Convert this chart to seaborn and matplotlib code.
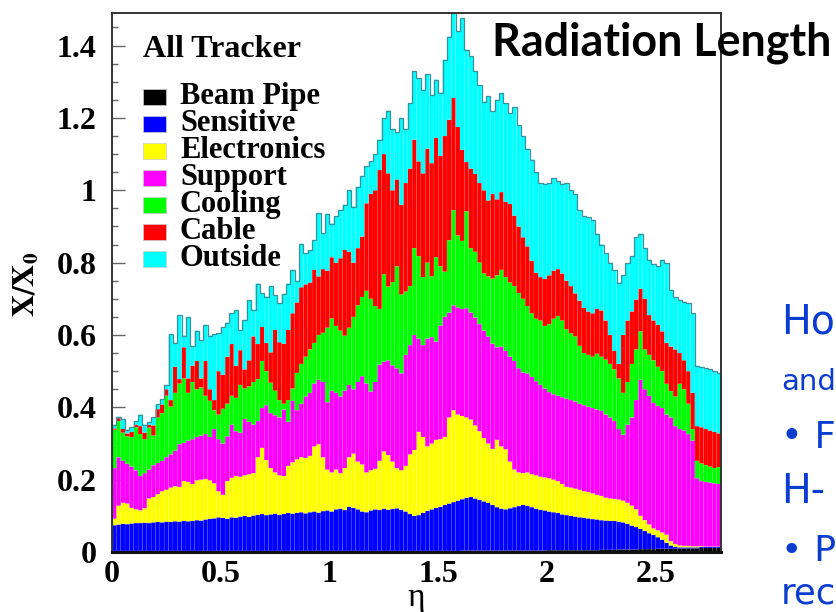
import numpy as np
import pandas as pd
import matplotlib
matplotlib.use("Agg")
import matplotlib.pyplot as plt
from matplotlib.patches import Rectangle
from matplotlib.ticker import FixedLocator, FixedFormatter, MultipleLocator
import seaborn as sns

# ---------------------------------------------------------------------------
# Material budget of the tracker: radiation length X/X0 versus pseudorapidity.
# Bins of 0.02 in eta from 0 to 2.8.  Each list gives the stacked level
# (cumulative X/X0 up to and including that material) at every bin.
# ---------------------------------------------------------------------------
eta_edges = [round(0.02 * i, 2) for i in range(141)]

materials = ["Beam Pipe", "Sensitive", "Electronics", "Support", "Cooling", "Cable", "Outside"]
material_colors = ["#000000", "#0000ff", "#ffff00", "#ff00ff", "#00ff00", "#ff0000", "#00ffff"]

stack_beam_pipe = (
    [0.003] * 80
    + [0.004] * 20
    + [0.005] * 10
    + [0.005, 0.005, 0.006, 0.006, 0.006, 0.006, 0.007, 0.007, 0.007, 0.007]
    + [0.007, 0.008, 0.008, 0.008, 0.008, 0.009, 0.009, 0.009, 0.009, 0.009]
    + [0.010, 0.010, 0.010, 0.010, 0.010, 0.011, 0.011, 0.011, 0.011, 0.011]
)

stack_sensitive = [
    0.074, 0.076, 0.078, 0.077, 0.079, 0.080, 0.080, 0.081, 0.080, 0.082,
    0.083, 0.082, 0.084, 0.083, 0.085, 0.084, 0.086, 0.085, 0.086, 0.088,
    0.087, 0.090, 0.092, 0.093, 0.096, 0.094, 0.092, 0.096, 0.095, 0.098,
    0.100, 0.097, 0.101, 0.103, 0.105, 0.102, 0.104, 0.106, 0.103, 0.105,
    0.108, 0.106, 0.108, 0.110, 0.107, 0.110, 0.112, 0.109, 0.113, 0.115,
    0.112, 0.118, 0.120, 0.116, 0.125, 0.122, 0.118, 0.112, 0.110, 0.115,
    0.118, 0.116, 0.120, 0.117, 0.119, 0.121, 0.117, 0.112, 0.105, 0.100,
    0.102, 0.108, 0.114, 0.118, 0.122, 0.125, 0.130, 0.134, 0.138, 0.142,
    0.146, 0.150, 0.152, 0.148, 0.144, 0.140, 0.136, 0.130, 0.124, 0.120,
    0.118, 0.121, 0.124, 0.127, 0.130, 0.128, 0.124, 0.120, 0.117, 0.115,
    0.112, 0.110, 0.108, 0.104, 0.102, 0.100, 0.098, 0.096, 0.095, 0.093,
    0.091, 0.090, 0.088, 0.087, 0.086, 0.086, 0.084, 0.082, 0.078, 0.073,
    0.069, 0.064, 0.058, 0.052, 0.047, 0.041, 0.034, 0.026, 0.018, 0.014,
    0.013, 0.013, 0.013, 0.013, 0.013, 0.014, 0.014, 0.014, 0.014, 0.014,
]

stack_electronics = [
    0.092, 0.128, 0.136, 0.134, 0.122, 0.118, 0.115, 0.121, 0.148, 0.152,
    0.160, 0.168, 0.172, 0.178, 0.182, 0.180, 0.196, 0.194, 0.188, 0.198,
    0.200, 0.202, 0.198, 0.190, 0.168, 0.158, 0.196, 0.205, 0.210, 0.208,
    0.212, 0.215, 0.218, 0.262, 0.288, 0.254, 0.232, 0.220, 0.212, 0.210,
    0.238, 0.248, 0.256, 0.262, 0.260, 0.266, 0.292, 0.298, 0.262, 0.228,
    0.220, 0.228, 0.218, 0.232, 0.262, 0.272, 0.250, 0.242, 0.220, 0.226,
    0.230, 0.252, 0.278, 0.268, 0.250, 0.232, 0.226, 0.238, 0.270, 0.282,
    0.332, 0.318, 0.292, 0.300, 0.310, 0.312, 0.318, 0.372, 0.392, 0.380,
    0.376, 0.372, 0.366, 0.350, 0.334, 0.315, 0.300, 0.285, 0.310, 0.292,
    0.284, 0.250, 0.228, 0.220, 0.218, 0.220, 0.215, 0.212, 0.208, 0.206,
    0.204, 0.200, 0.196, 0.188, 0.180, 0.178, 0.175, 0.172, 0.168, 0.166,
    0.162, 0.158, 0.155, 0.150, 0.148, 0.147, 0.145, 0.142, 0.136, 0.128,
    0.118, 0.100, 0.088, 0.076, 0.065, 0.060, 0.054, 0.048, 0.030, 0.022,
    0.018, 0.017, 0.017, 0.016, 0.016, 0.016, 0.015, 0.015, 0.015, 0.015,
]

stack_support = [
    0.232, 0.262, 0.252, 0.244, 0.236, 0.226, 0.210, 0.218, 0.228, 0.240,
    0.246, 0.252, 0.262, 0.270, 0.280, 0.298, 0.302, 0.308, 0.312, 0.318,
    0.322, 0.326, 0.318, 0.340, 0.312, 0.300, 0.320, 0.352, 0.334, 0.330,
    0.368, 0.360, 0.352, 0.362, 0.398, 0.406, 0.384, 0.378, 0.372, 0.394,
    0.360, 0.418, 0.392, 0.410, 0.430, 0.440, 0.466, 0.476, 0.470, 0.414,
    0.446, 0.440, 0.430, 0.446, 0.462, 0.450, 0.470, 0.486, 0.466, 0.444,
    0.470, 0.518, 0.526, 0.530, 0.516, 0.508, 0.494, 0.545, 0.572, 0.600,
    0.590, 0.572, 0.590, 0.594, 0.582, 0.626, 0.650, 0.662, 0.682, 0.676,
    0.672, 0.674, 0.662, 0.648, 0.630, 0.612, 0.596, 0.576, 0.566, 0.568,
    0.556, 0.540, 0.528, 0.508, 0.496, 0.494, 0.484, 0.472, 0.462, 0.452,
    0.442, 0.436, 0.432, 0.428, 0.424, 0.420, 0.416, 0.410, 0.406, 0.402,
    0.398, 0.394, 0.390, 0.380, 0.372, 0.362, 0.340, 0.324, 0.352, 0.372,
    0.420, 0.476, 0.450, 0.432, 0.412, 0.404, 0.398, 0.380, 0.372, 0.348,
    0.340, 0.336, 0.326, 0.308, 0.204, 0.196, 0.194, 0.192, 0.190, 0.188,
]

stack_cooling = [
    0.338, 0.362, 0.330, 0.320, 0.318, 0.345, 0.326, 0.312, 0.344, 0.322,
    0.372, 0.384, 0.432, 0.402, 0.440, 0.466, 0.480, 0.440, 0.470, 0.450,
    0.455, 0.432, 0.418, 0.392, 0.380, 0.396, 0.410, 0.432, 0.426, 0.462,
    0.452, 0.458, 0.470, 0.478, 0.528, 0.500, 0.468, 0.446, 0.420, 0.410,
    0.420, 0.452, 0.495, 0.520, 0.540, 0.560, 0.578, 0.600, 0.606, 0.620,
    0.646, 0.625, 0.612, 0.598, 0.620, 0.650, 0.682, 0.705, 0.722, 0.700,
    0.680, 0.672, 0.768, 0.734, 0.746, 0.790, 0.712, 0.720, 0.735, 0.840,
    0.818, 0.760, 0.800, 0.762, 0.815, 0.790, 0.775, 0.862, 0.945, 0.875,
    0.860, 0.942, 0.840, 0.830, 0.800, 0.770, 0.762, 0.756, 0.765, 0.780,
    0.760, 0.745, 0.735, 0.716, 0.700, 0.680, 0.660, 0.645, 0.640, 0.625,
    0.630, 0.645, 0.652, 0.640, 0.616, 0.605, 0.596, 0.570, 0.550, 0.545,
    0.540, 0.548, 0.540, 0.532, 0.520, 0.505, 0.480, 0.440, 0.470, 0.520,
    0.560, 0.610, 0.560, 0.545, 0.530, 0.512, 0.500, 0.465, 0.445, 0.430,
    0.465, 0.450, 0.410, 0.340, 0.252, 0.245, 0.240, 0.236, 0.232, 0.235,
]

stack_cable = [
    0.342, 0.370, 0.340, 0.328, 0.332, 0.352, 0.348, 0.330, 0.352, 0.350,
    0.395, 0.408, 0.450, 0.420, 0.512, 0.478, 0.566, 0.480, 0.515, 0.528,
    0.480, 0.528, 0.450, 0.420, 0.500, 0.490, 0.540, 0.575, 0.515, 0.558,
    0.505, 0.530, 0.596, 0.575, 0.622, 0.578, 0.552, 0.614, 0.580, 0.576,
    0.614, 0.660, 0.690, 0.732, 0.740, 0.745, 0.780, 0.762, 0.782, 0.778,
    0.815, 0.800, 0.812, 0.835, 0.830, 0.800, 0.840, 0.872, 0.964, 0.990,
    1.000, 1.056, 1.100, 1.047, 1.000, 1.030, 0.960, 1.020, 1.060, 1.140,
    1.080, 1.047, 1.115, 1.075, 1.145, 1.095, 1.150, 1.195, 1.255, 1.175,
    1.112, 1.078, 1.060, 1.045, 1.020, 1.000, 0.972, 0.990, 0.975, 0.995,
    0.968, 0.962, 0.930, 0.900, 0.870, 0.845, 0.805, 0.772, 0.760, 0.755,
    0.765, 0.778, 0.782, 0.770, 0.750, 0.735, 0.715, 0.695, 0.675, 0.665,
    0.660, 0.672, 0.668, 0.640, 0.600, 0.556, 0.520, 0.600, 0.640, 0.665,
    0.698, 0.728, 0.700, 0.655, 0.640, 0.628, 0.610, 0.578, 0.568, 0.560,
    0.550, 0.530, 0.500, 0.440, 0.348, 0.345, 0.340, 0.336, 0.332, 0.328,
]

stack_outside = [
    0.350, 0.374, 0.368, 0.338, 0.345, 0.362, 0.380, 0.352, 0.360, 0.372,
    0.408, 0.422, 0.462, 0.602, 0.578, 0.655, 0.598, 0.650, 0.570, 0.612,
    0.586, 0.628, 0.598, 0.602, 0.605, 0.622, 0.634, 0.660, 0.668, 0.614,
    0.642, 0.696, 0.670, 0.742, 0.716, 0.706, 0.734, 0.710, 0.688, 0.714,
    0.742, 0.780, 0.750, 0.852, 0.826, 0.835, 0.862, 0.936, 0.882, 0.935,
    0.908, 0.928, 0.946, 0.960, 1.000, 0.955, 1.010, 1.040, 1.066, 1.080,
    1.100, 1.140, 1.200, 1.220, 1.170, 1.160, 1.200, 1.170, 1.240, 1.329,
    1.310, 1.278, 1.320, 1.264, 1.306, 1.270, 1.361, 1.425, 1.490, 1.440,
    1.476, 1.389, 1.370, 1.330, 1.290, 1.245, 1.260, 1.218, 1.250, 1.268,
    1.240, 1.213, 1.230, 1.180, 1.150, 1.115, 1.085, 1.050, 1.020, 1.018,
    1.020, 1.034, 1.025, 1.018, 1.020, 1.000, 0.990, 0.945, 0.928, 0.925,
    0.918, 0.880, 0.850, 0.826, 0.800, 0.780, 0.745, 0.765, 0.798, 0.817,
    0.870, 0.880, 0.840, 0.808, 0.795, 0.790, 0.808, 0.798, 0.725, 0.705,
    0.697, 0.692, 0.688, 0.660, 0.515, 0.512, 0.508, 0.505, 0.500, 0.494,
]

x_tick_values = [0, 0.5, 1, 1.5, 2, 2.5]
x_tick_labels = ["0", "0.5", "1", "1.5", "2", "2.5"]
y_tick_values = [0, 0.2, 0.4, 0.6, 0.8, 1.0, 1.2, 1.4]
y_tick_labels = ["0", "0.2", "0.4", "0.6", "0.8", "1", "1.2", "1.4"]

side_lines = ["Ho", "and", "\u2022 F", "H-", "\u2022 P", "rec"]

# ---------------------------------------------------------------------------
# Long-format table: one row per (bin, material) holding that material's share
# ---------------------------------------------------------------------------
levels = np.vstack([stack_beam_pipe, stack_sensitive, stack_electronics, stack_support,
                    stack_cooling, stack_cable, stack_outside])
shares = np.clip(np.diff(np.vstack([np.zeros(levels.shape[1]), levels]), axis=0), 0, None)
edges_arr = np.asarray(eta_edges)
eta_centers = 0.5 * (edges_arr[:-1] + edges_arr[1:])
n_bins = len(eta_centers)
df = pd.DataFrame({
    "eta": np.tile(eta_centers, len(materials)),
    "x_over_x0": shares.ravel(),
    "material": np.repeat(materials, n_bins),
})

# ---------------------------------------------------------------------------
# Figure
# ---------------------------------------------------------------------------
sns.set_style("white")
plt.rcParams["mathtext.fontset"] = "stix"
W, H = 837, 612
fig = plt.figure(figsize=(W / 100, H / 100), dpi=100)
ax = fig.add_axes([112 / W, 1 - 552 / H, (721 - 112) / W, (552 - 13) / H])
renderer = fig.canvas.get_renderer()


def fx(px):
    return px / W


def fy(py):
    return 1 - py / H


def fit_width(text_artist, target_px):
    """Scale a text's font size so that it spans target_px pixels."""
    width = text_artist.get_window_extent(renderer=renderer).width
    text_artist.set_fontsize(text_artist.get_fontsize() * target_px / width)
    return text_artist.get_fontsize()


sns.histplot(
    data=df, x="eta", weights="x_over_x0", hue="material",
    hue_order=materials[::-1], multiple="stack", bins=eta_edges,
    palette=dict(zip(materials, material_colors)), element="bars",
    alpha=1, edgecolor=(1, 1, 1, 0.14), linewidth=0.3, snap=False,
    legend=False, ax=ax, zorder=2,
)
# thin outline along the top of the stack
ax.stairs(stack_outside, edges_arr, color="#3f8f98", linewidth=0.9, zorder=3)

ax.set_xlim(0, 2.8)
ax.set_ylim(0, 1.49)
ax.set_xlabel("")
ax.set_ylabel("")

serif_bold = dict(family="Liberation Serif", weight="bold")
ax.xaxis.set_major_locator(FixedLocator(x_tick_values))
ax.xaxis.set_major_formatter(FixedFormatter(x_tick_labels))
ax.yaxis.set_major_locator(FixedLocator(y_tick_values))
ax.yaxis.set_major_formatter(FixedFormatter(y_tick_labels))
ax.yaxis.set_minor_locator(MultipleLocator(0.05))
ax.tick_params(axis="y", which="major", direction="in", length=9, width=1.0,
               color="#666666", pad=11, left=True)
ax.tick_params(axis="y", which="minor", direction="in", length=4.5, width=1.0,
               color="#666666", left=True)
ax.tick_params(axis="x", which="both", length=0, pad=6)
for lab in ax.get_xticklabels() + ax.get_yticklabels():
    lab.set_fontfamily("Liberation Serif")
    lab.set_fontweight("bold")
    lab.set_fontsize(23)
    lab.set_color("black")

for side, spine in ax.spines.items():
    spine.set_visible(True)
    spine.set_color("#333333")
    spine.set_linewidth(1.4)
    spine.set_zorder(5)
ax.spines["bottom"].set_linewidth(2.2)
ax.spines["bottom"].set_color("#111111")

# axis titles
fig.text(fx(26), fy(284), r"$\mathbf{X/X_0}$", rotation=90, ha="center", va="center",
         fontsize=22, color="black")
fig.text(fx(416), fy(606), "\u03b7", ha="center", va="baseline", fontsize=24,
         family="Liberation Serif", color="black")

# legend block
fig.text(fx(143), fy(57), "All Tracker", ha="left", va="baseline", fontsize=23,
         color="black", **serif_bold)
for k, (name, col) in enumerate(zip(materials, material_colors)):
    yc = 97 + 27 * k
    fig.patches.append(Rectangle((fx(143), fy(yc + 8)), fx(166) - fx(143), (16 / H),
                                 transform=fig.transFigure, facecolor=col,
                                 edgecolor="#cccccc", linewidth=0.5, zorder=6))
    fig.text(fx(180), fy(yc + 7), name, ha="left", va="baseline", fontsize=22,
             color="black", zorder=6, **serif_bold)

# slide heading, overlapping the frame at the top right
heading = fig.text(fx(492), fy(55), "Radiation Length", ha="left", va="baseline",
                   fontsize=26, fontweight="bold", family="Lato", color="black", zorder=10)
fit_width(heading, 340)

# slide text at the right edge, each line kept inside the figure
side_baselines = [333, 390, 448, 503, 561, 603]
side_texts = []
for line, yb in zip(side_lines, side_baselines):
    t = fig.text(fx(781), fy(yb), line, ha="left", va="baseline", fontsize=30,
                 family="DejaVu Sans", color="#0a3cd0", zorder=10)
    side_texts.append(t)
size = min(fit_width(side_texts[0], 54), 40)
for t in side_texts:
    t.set_fontsize(size)
    w = t.get_window_extent(renderer=renderer).width
    if w > 55:
        t.set_fontsize(size * 55 / w)

fig.savefig("out.png", dpi=100)
